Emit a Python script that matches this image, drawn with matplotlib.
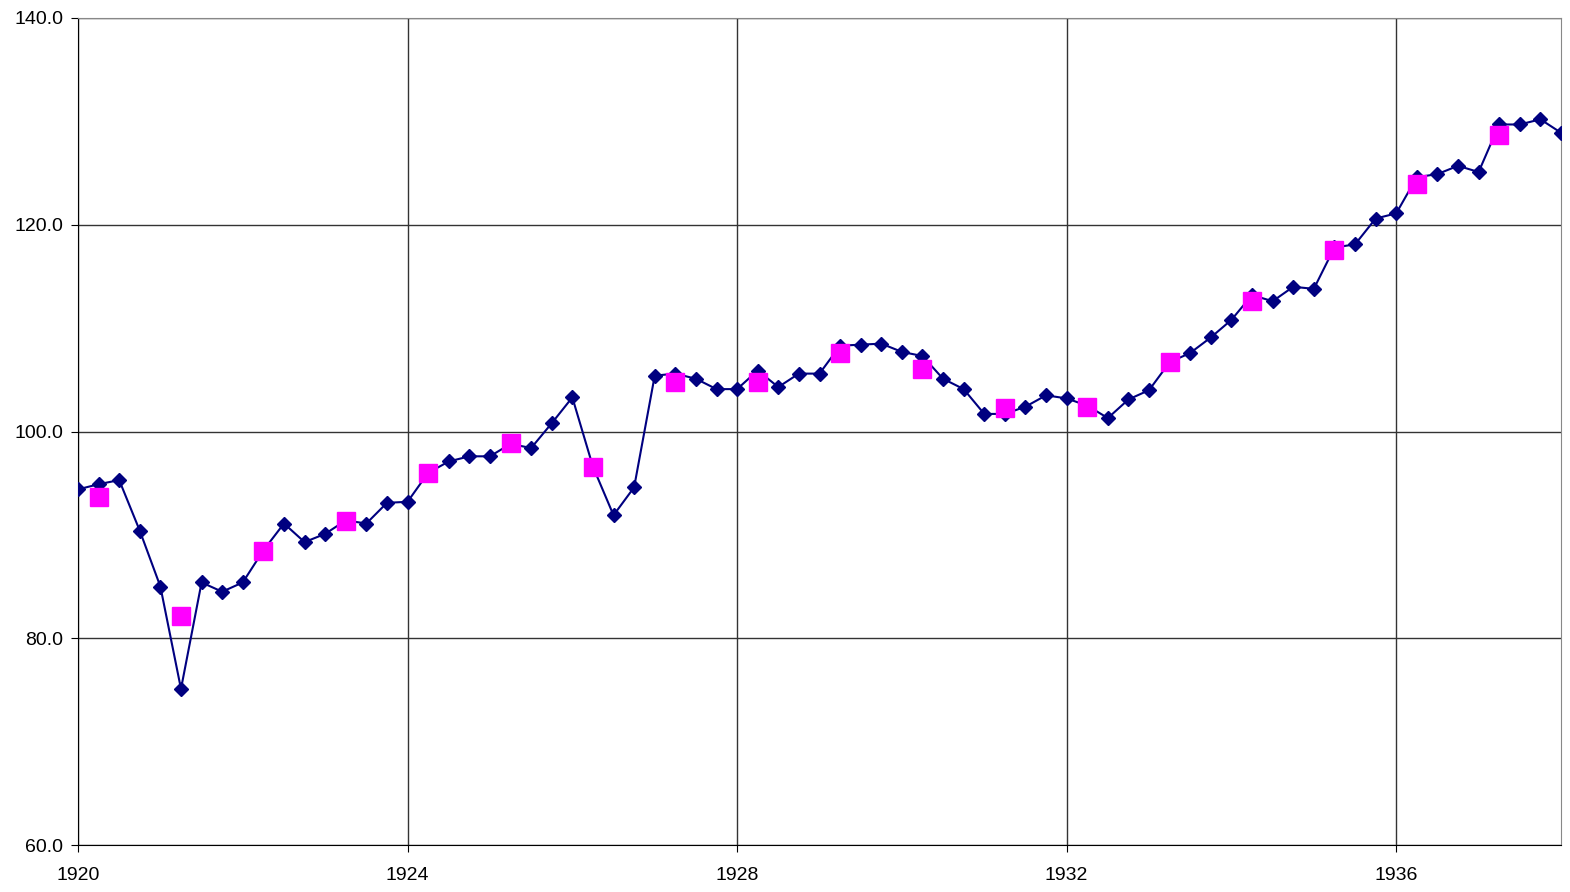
import numpy as np
import matplotlib.pyplot as plt

# quarterly index, 1920 Q1 .. 1938 Q1
quarter_values = [
    94.4, 94.9, 95.3, 90.4,   # 1920
    85.0, 75.1, 85.4, 84.5,   # 1921
    85.4, 88.5, 91.1, 89.3,   # 1922
    90.1, 91.4, 91.1, 93.1,   # 1923
    93.2, 96.0, 97.1, 97.6,   # 1924
    97.6, 98.8, 98.4, 100.8,  # 1925
    103.3, 96.6, 91.9, 94.6,  # 1926
    105.4, 105.6, 105.1, 104.1,  # 1927
    104.1, 105.9, 104.3, 105.6,  # 1928
    105.6, 108.3, 108.4, 108.5,  # 1929
    107.7, 107.3, 105.1, 104.1,  # 1930
    101.7, 101.7, 102.4, 103.5,  # 1931
    103.2, 102.5, 101.3, 103.1,  # 1932
    104.0, 106.7, 107.6, 109.1,  # 1933
    110.8, 113.2, 112.6, 114.0,  # 1934
    113.8, 117.8, 118.1, 120.6,  # 1935
    121.1, 124.6, 124.9, 125.7,  # 1936
    125.1, 129.7, 129.7, 130.2,  # 1937
    128.9,                       # 1938
]
quarter_x = 1920 + np.arange(len(quarter_values)) * 0.25

# yearly averages, plotted at year + 0.25
years = list(range(1920, 1938))
year_values = [93.7, 82.2, 88.4, 91.3, 96.0, 98.9, 96.6, 104.8, 104.8,
               107.6, 106.0, 102.3, 102.4, 106.7, 112.6, 117.6, 123.9, 128.7]
year_x = np.array(years) + 0.25

plt.rcParams['font.family'] = ['Liberation Sans', 'DejaVu Sans']

fig = plt.figure(figsize=(15.7, 8.92), dpi=100)
ax = fig.add_axes([78 / 1570, 1 - 845 / 892, (1561 - 78) / 1570, (845 - 18) / 892])

ax.plot(quarter_x, quarter_values, color='#000080', lw=1.5, marker='D', ms=7, zorder=3)
ax.plot(year_x, year_values, ls='none', marker='s', ms=12.5, color='#FF00FF', zorder=4)

ax.set_xlim(1920, 1938)
ax.set_ylim(60, 140)
ax.set_xticks([1920, 1924, 1928, 1932, 1936])
ax.set_yticks([60, 80, 100, 120, 140])
ax.set_yticklabels(['%.1f' % v for v in [60, 80, 100, 120, 140]])
ax.grid(True, color='#333333', lw=1)
ax.set_axisbelow(True)
ax.tick_params(labelsize=14, length=5, direction='out', color='black')
ax.tick_params(axis='x', pad=11)
ax.tick_params(axis='y', pad=5.5)

for s in ['top', 'right']:
    ax.spines[s].set_color('#888888')
for s in ['left', 'bottom']:
    ax.spines[s].set_color('black')

fig.savefig('out.png', dpi=100)
